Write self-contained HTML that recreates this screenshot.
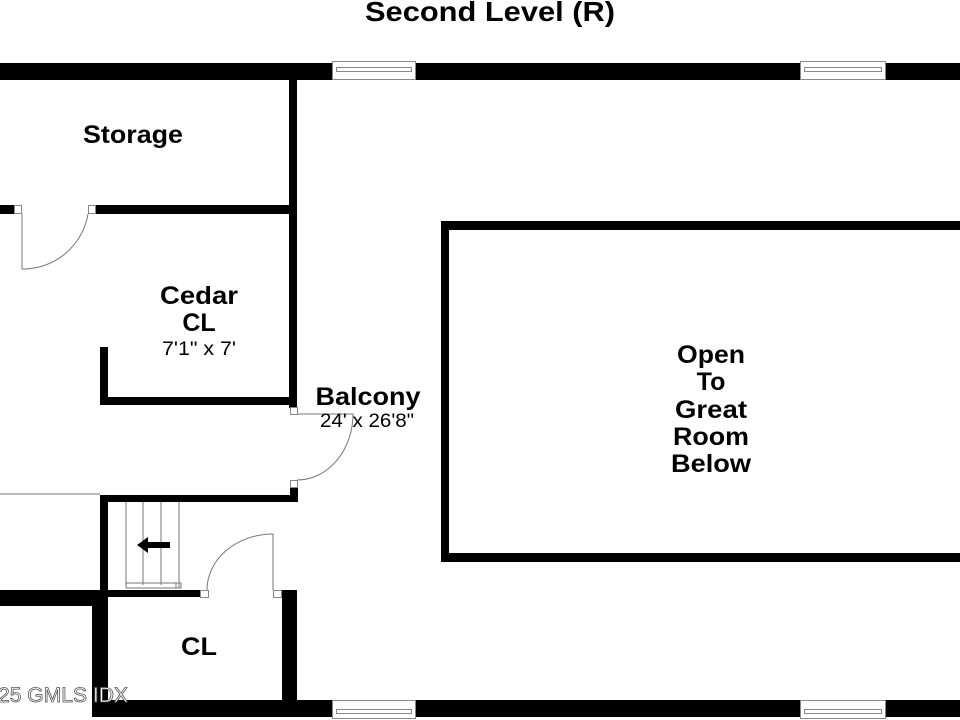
<!DOCTYPE html>
<html><head><style>body{margin:0;background:#fff}svg{display:block}</style></head><body>
<svg width="960" height="720" viewBox="0 0 960 720" xmlns="http://www.w3.org/2000/svg" font-family="Liberation Sans, Arial, sans-serif">
<rect width="960" height="720" fill="#fff"/>
<text x="490" y="21" text-anchor="middle" font-size="28" font-weight="bold" textLength="250" lengthAdjust="spacingAndGlyphs">Second Level (R)</text>
<g fill="#000">
<rect x="0" y="63" width="332" height="17"/><rect x="416" y="63" width="384" height="17"/><rect x="886" y="63" width="74" height="17"/>
<rect x="92" y="700" width="240" height="17"/><rect x="416" y="700" width="384" height="17"/><rect x="886" y="700" width="74" height="17"/>
<rect x="289" y="80" width="8" height="328"/>
<rect x="0" y="205" width="14" height="9"/><rect x="95" y="205" width="198" height="9"/>
<rect x="100" y="347" width="8" height="58"/><rect x="100" y="397" width="197" height="8"/>
<rect x="290" y="487" width="8" height="15"/>
<rect x="100" y="495" width="198" height="7"/>
<rect x="100" y="495" width="8" height="100"/>
<rect x="0" y="590" width="200" height="7"/>
<rect x="0" y="590" width="100" height="16"/>
<rect x="92" y="590" width="16" height="127"/>
<rect x="282" y="590" width="15" height="117"/>
<rect x="441" y="221" width="519" height="9"/><rect x="441" y="553" width="519" height="9"/><rect x="441" y="221" width="8" height="341"/>
</g>
<g fill="#fff" stroke="#888" stroke-width="1">
<rect x="332.5" y="61.5" width="83" height="18"/><rect x="336.5" y="67.5" width="75" height="4"/>
<rect x="800.5" y="61.5" width="85" height="18"/><rect x="804.5" y="67.5" width="77" height="4"/>
<rect x="332.5" y="700.5" width="83" height="18"/><rect x="336.5" y="709.5" width="75" height="4"/>
<rect x="800.5" y="700.5" width="85" height="18"/><rect x="804.5" y="709.5" width="77" height="4"/>
<rect x="14.5" y="205.5" width="7" height="8"/><rect x="88.5" y="205.5" width="7" height="8"/>
<rect x="290.5" y="407.5" width="7" height="7"/><rect x="290.5" y="480.5" width="7" height="7"/>
<rect x="200.5" y="590.5" width="8" height="7"/><rect x="273.5" y="590.5" width="8" height="7"/>
</g>
<g fill="none" stroke="#777" stroke-width="1">
<path d="M22 214 V269 A66 66 0 0 0 88 214"/>
<path d="M298 414 H353 A56 66 0 0 1 297 480"/>
<path d="M273 590 V534 A66 56 0 0 0 207 590"/>
<path d="M126 502 V585 M143 502 V585 M161 502 V585 M179 502 V585"/>
<rect x="126" y="583" width="53" height="5"/>
<rect x="176" y="583" width="5" height="5"/>
<path d="M0 494 H100"/>
</g>
<path d="M137 545 L148 537 V542 H170 V548 H148 V553 Z" fill="#000"/>
<g font-weight="bold" font-size="25" text-anchor="middle">
<text x="133" y="143" textLength="100" lengthAdjust="spacingAndGlyphs">Storage</text>
<text x="199" y="304" textLength="78" lengthAdjust="spacingAndGlyphs">Cedar</text>
<text x="199" y="331">CL</text>
<text x="368" y="405" textLength="105" lengthAdjust="spacingAndGlyphs">Balcony</text>
<text x="711" y="363" textLength="68" lengthAdjust="spacingAndGlyphs">Open</text>
<text x="711" y="390">To</text>
<text x="711" y="418" textLength="72" lengthAdjust="spacingAndGlyphs">Great</text>
<text x="711" y="445" textLength="76" lengthAdjust="spacingAndGlyphs">Room</text>
<text x="711" y="472" textLength="80" lengthAdjust="spacingAndGlyphs">Below</text>
<text x="199" y="655" textLength="36" lengthAdjust="spacingAndGlyphs">CL</text>
</g>
<g font-size="19" text-anchor="middle">
<text x="199" y="355" textLength="74" lengthAdjust="spacingAndGlyphs">7'1" x 7'</text>
<text x="367" y="427" textLength="94" lengthAdjust="spacingAndGlyphs">24' x 26'8"</text>
</g>
<text x="-2" y="702" font-size="21" fill="#fff" stroke="#555" stroke-width="0.8" textLength="130" lengthAdjust="spacingAndGlyphs">25 GMLS IDX</text>
</svg>
</body></html>
